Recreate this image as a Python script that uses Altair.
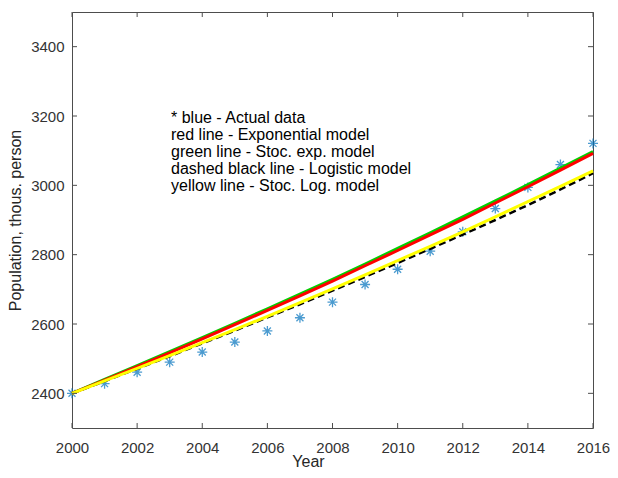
import altair as alt
import pandas as pd

years = list(range(2000, 2017))
actual = [2400, 2428, 2461, 2490, 2519, 2548, 2580, 2618, 2663, 2714, 2758, 2810, 2866, 2933, 2994, 3060, 3121]
exponential = [2400, 2438, 2477, 2517, 2557, 2598, 2639, 2681, 2724, 2768, 2812, 2857, 2902, 2949, 2996, 3044, 3092]
stoc_exp = [2400, 2440, 2480, 2520, 2561, 2602, 2644, 2686, 2729, 2773, 2818, 2863, 2909, 2955, 3002, 3050, 3097]
logistic = [2400, 2435, 2471, 2507, 2544, 2581, 2619, 2657, 2696, 2736, 2776, 2817, 2858, 2900, 2943, 2988, 3035]
stoc_log = [2400, 2436, 2472, 2509, 2546, 2584, 2622, 2662, 2701, 2742, 2783, 2824, 2866, 2909, 2953, 2997, 3042]

x_ticks = [2000, 2002, 2004, 2006, 2008, 2010, 2012, 2014, 2016]
y_ticks = [2400, 2600, 2800, 3000, 3200, 3400]

legend_lines = [
    "* blue - Actual data",
    "red line - Exponential model",
    "green line - Stoc. exp. model",
    "dashed black line - Logistic model",
    "yellow line - Stoc. Log. model",
]

W, H = 521, 416
FONT = "Liberation Sans"

df = pd.DataFrame({
    "year": years,
    "actual": actual,
    "exponential": exponential,
    "stoc_exp": stoc_exp,
    "logistic": logistic,
    "stoc_log": stoc_log,
})

xscale = alt.Scale(domain=[2000, 2016], nice=False, zero=False)
yscale = alt.Scale(domain=[2300, 3500], nice=False, zero=False)

xaxis = alt.Axis(values=x_ticks, format="d", title="Year", titleX=236, titleY=38,
                 titleBaseline="alphabetic", labelPadding=12, labelFlush=False)
yaxis = alt.Axis(values=y_ticks, format="d", title="Population, thous. person",
                 titleX=-57, titleY=H / 2, titleAngle=-90, titleBaseline="middle",
                 labelPadding=8, labelFlush=False)

base = alt.Chart(df)

star = "M-1,0L1,0M0,-1L0,1M-0.7,-0.7L0.7,0.7M-0.7,0.7L0.7,-0.7"

pts = base.mark_point(shape=star, filled=False, color="#0072BD", size=100, strokeWidth=1.3).encode(
    x=alt.X("year:Q", scale=xscale, axis=xaxis),
    y=alt.Y("actual:Q", scale=yscale, axis=yaxis),
)

def line(field, color, width, dash=None):
    kw = dict(color=color, strokeWidth=width)
    if dash:
        kw["strokeDash"] = dash
    return base.mark_line(**kw).encode(
        x=alt.X("year:Q", scale=xscale),
        y=alt.Y(f"{field}:Q", scale=yscale),
    )

green = line("stoc_exp", "#00d000", 3)
red = line("exponential", "#ff0000", 3)
black = line("logistic", "#000000", 2.5, [7, 4])
yellow = line("stoc_log", "#ffff00", 3)

xt = pd.DataFrame({"t": x_ticks})
yt = pd.DataFrame({"t": y_ticks})
tick_color = "#4d4d4d"
xt_bottom = alt.Chart(xt).mark_rule(color=tick_color, strokeWidth=1).encode(
    x=alt.X("t:Q", scale=xscale), y=alt.value(H), y2=alt.value(H - 5))
xt_top = alt.Chart(xt).mark_rule(color=tick_color, strokeWidth=1).encode(
    x=alt.X("t:Q", scale=xscale), y=alt.value(0), y2=alt.value(5))
yt_left = alt.Chart(yt).mark_rule(color=tick_color, strokeWidth=1).encode(
    y=alt.Y("t:Q", scale=yscale), x=alt.value(0), x2=alt.value(5))
yt_right = alt.Chart(yt).mark_rule(color=tick_color, strokeWidth=1).encode(
    y=alt.Y("t:Q", scale=yscale), x=alt.value(W), x2=alt.value(W - 5))

txt = alt.Chart(pd.DataFrame({"k": [0]})).mark_text(
    text=legend_lines, align="left", baseline="top", fontSize=16, lineHeight=17,
    font=FONT, color="#000000"
).encode(x=alt.value(99), y=alt.value(97.5))

chart = alt.layer(
    pts, green, red, black, yellow, xt_bottom, xt_top, yt_left, yt_right, txt
).properties(
    width=W, height=H,
    padding={"left": 64, "top": 4, "right": 17, "bottom": 42},
    autosize=alt.AutoSizeParams(type="none"),
    background="white",
).configure_view(
    stroke="#4d4d4d", strokeWidth=1
).configure_axis(
    domain=False, ticks=False, grid=False,
    labelFont=FONT, labelFontSize=15, labelColor="#333333",
    titleFont=FONT, titleFontSize=16, titleColor="#262626", titleFontWeight="normal",
)

chart.save("out.html", embed_options={"renderer": "svg", "actions": False})
